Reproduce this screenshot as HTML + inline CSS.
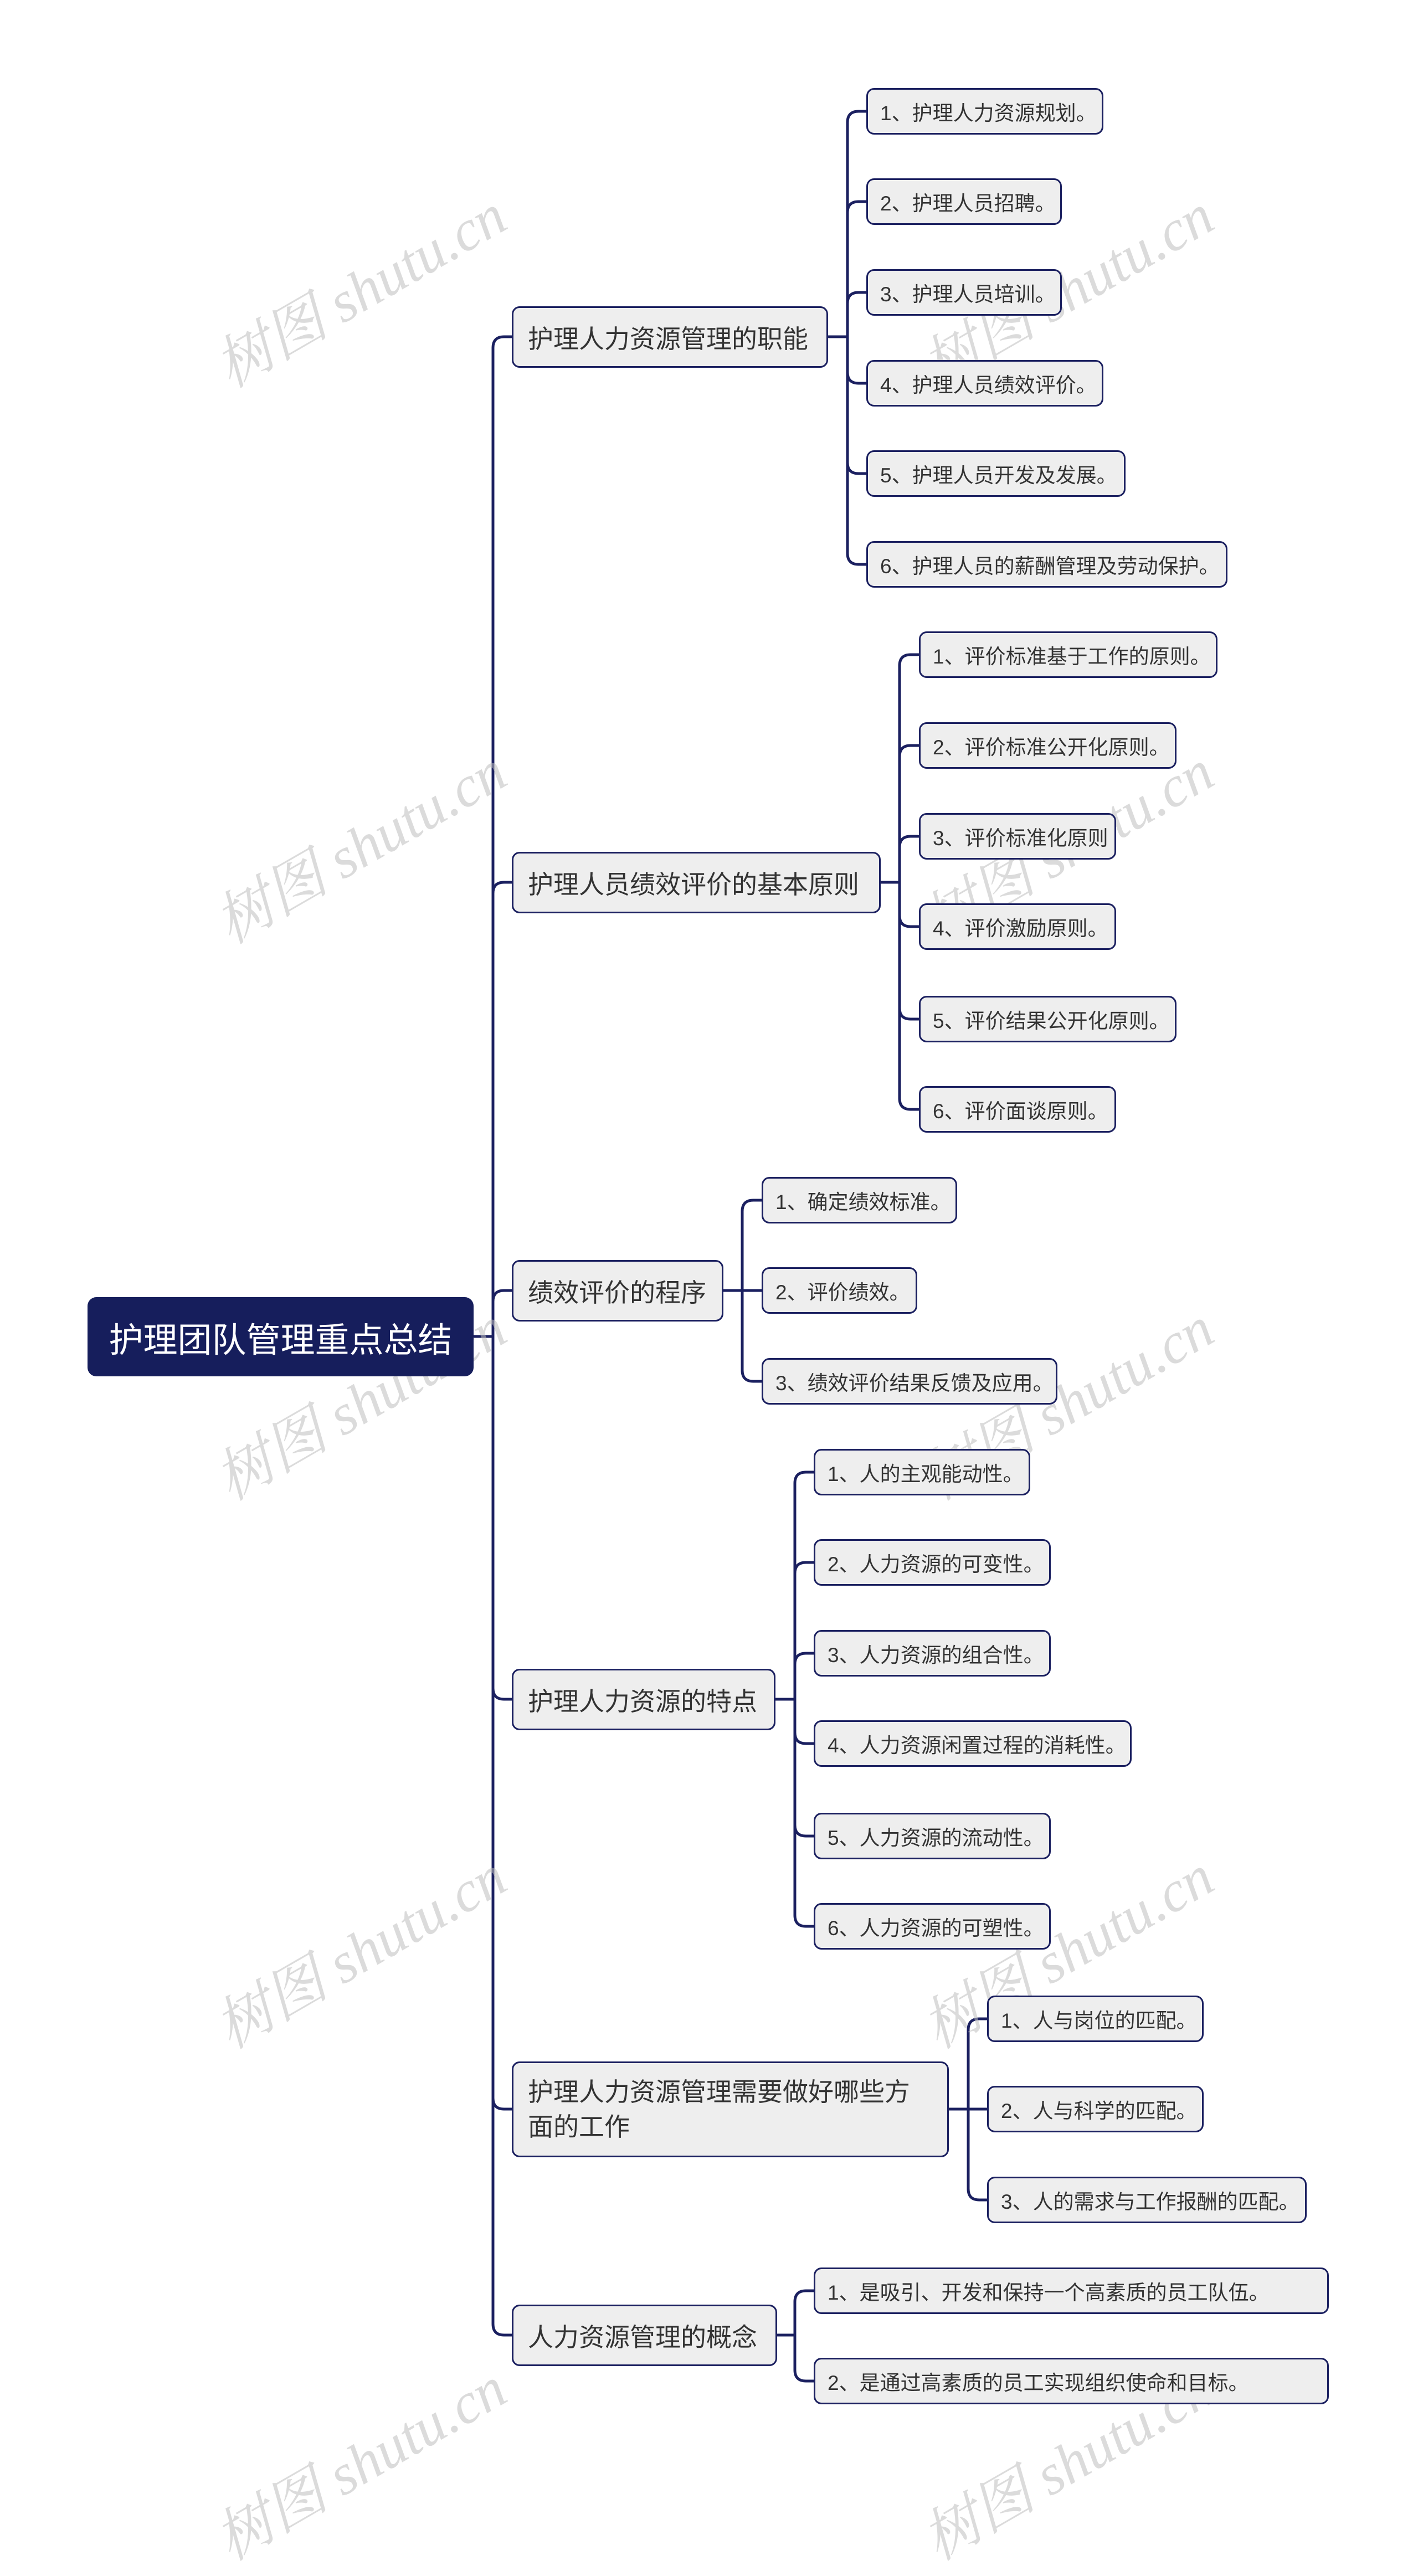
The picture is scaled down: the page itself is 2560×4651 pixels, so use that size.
<!DOCTYPE html>
<html><head><meta charset="utf-8"><style>
html,body{margin:0;padding:0;background:#fff}
body{width:2560px;height:4499px;position:relative;overflow:hidden;font-family:"Liberation Sans","Noto Sans CJK SC",sans-serif}
.n{position:absolute;box-sizing:border-box;background:#eeeeee;border:3px solid #1b2060;border-radius:14px;color:#333;display:flex;align-items:center;white-space:nowrap}
.l1{height:111px;font-size:46px;padding-left:26px}
.lf{height:84px;font-size:37px;padding-left:22px}
.root{position:absolute;left:158px;top:2342px;width:697px;height:143px;background:#161e5c;border-radius:16px;color:#fff;font-size:62px;display:flex;align-items:center;justify-content:center}
.wm{position:absolute;color:rgba(190,190,190,0.55);font-family:"Liberation Serif","Noto Serif CJK SC",serif;font-style:italic;font-size:104px;transform:translate(-50%,-50%) rotate(-30deg);white-space:nowrap}
</style></head><body>
<svg width="2560" height="4499" style="position:absolute;left:0;top:0" fill="none" stroke="#1b2060" stroke-width="5">
<path d="M855 2413H890
M890 2413V628Q890 608 910 608H924
M890 2413V1613Q890 1593 910 1593H924
M890 2413V2350Q890 2330 910 2330H924
M890 2413V3048Q890 3068 910 3068H924
M890 2413V3788Q890 3808 910 3808H924
M890 2413V4196Q890 4216 910 4216H924
M1495 608H1530
M1530 608V221Q1530 201 1550 201H1564
M1530 608V384Q1530 364 1550 364H1564
M1530 608V548Q1530 528 1550 528H1564
M1530 608V672Q1530 692 1550 692H1564
M1530 608V835Q1530 855 1550 855H1564
M1530 608V999Q1530 1019 1550 1019H1564
M1590 1593H1624
M1624 1593V1202Q1624 1182 1644 1182H1659
M1624 1593V1366Q1624 1346 1644 1346H1659
M1624 1593V1530Q1624 1510 1644 1510H1659
M1624 1593V1653Q1624 1673 1644 1673H1659
M1624 1593V1820Q1624 1840 1644 1840H1659
M1624 1593V1983Q1624 2003 1644 2003H1659
M1306 2330H1375
M1340 2330V2187Q1340 2167 1360 2167H1375
M1340 2330V2474Q1340 2494 1360 2494H1375
M1400 3068H1435
M1435 3068V2678Q1435 2658 1455 2658H1469
M1435 3068V2841Q1435 2821 1455 2821H1469
M1435 3068V3005Q1435 2985 1455 2985H1469
M1435 3068V3128Q1435 3148 1455 3148H1469
M1435 3068V3295Q1435 3315 1455 3315H1469
M1435 3068V3458Q1435 3478 1455 3478H1469
M1713 3808H1782
M1748 3808V3665Q1748 3645 1768 3645H1782
M1748 3808V3952Q1748 3972 1768 3972H1782
M1403 4216H1435
M1435 4216V4156Q1435 4136 1455 4136H1469
M1435 4216V4279Q1435 4299 1455 4299H1469"/>
</svg>

<div class="wm" style="left:646px;top:517px">树图 shutu.cn</div>
<div class="wm" style="left:1923px;top:517px">树图 shutu.cn</div>
<div class="wm" style="left:646px;top:1521px">树图 shutu.cn</div>
<div class="wm" style="left:1923px;top:1521px">树图 shutu.cn</div>
<div class="wm" style="left:646px;top:2526px">树图 shutu.cn</div>
<div class="wm" style="left:1923px;top:2526px">树图 shutu.cn</div>
<div class="wm" style="left:646px;top:3516px">树图 shutu.cn</div>
<div class="wm" style="left:1923px;top:3516px">树图 shutu.cn</div>
<div class="wm" style="left:646px;top:4440px">树图 shutu.cn</div>
<div class="wm" style="left:1923px;top:4440px">树图 shutu.cn</div>

<div class="root">护理团队管理重点总结</div>

<div class="n l1" style="left:924px;top:553px;width:571px">护理人力资源管理的职能</div>
<div class="n l1" style="left:924px;top:1538px;width:666px">护理人员绩效评价的基本原则</div>
<div class="n l1" style="left:924px;top:2275px;width:382px">绩效评价的程序</div>
<div class="n l1" style="left:924px;top:3013px;width:476px">护理人力资源的特点</div>
<div class="n l1" style="left:924px;top:3722px;width:789px;height:173px;line-height:63px;white-space:normal">护理人力资源管理需要做好哪些方<br>面的工作</div>
<div class="n l1" style="left:924px;top:4161px;width:479px">人力资源管理的概念</div>

<div class="n lf" style="left:1564px;top:159px;width:428px">1、护理人力资源规划。</div>
<div class="n lf" style="left:1564px;top:322px;width:353px">2、护理人员招聘。</div>
<div class="n lf" style="left:1564px;top:486px;width:353px">3、护理人员培训。</div>
<div class="n lf" style="left:1564px;top:650px;width:428px">4、护理人员绩效评价。</div>
<div class="n lf" style="left:1564px;top:813px;width:468px">5、护理人员开发及发展。</div>
<div class="n lf" style="left:1564px;top:977px;width:652px">6、护理人员的薪酬管理及劳动保护。</div>

<div class="n lf" style="left:1659px;top:1140px;width:539px">1、评价标准基于工作的原则。</div>
<div class="n lf" style="left:1659px;top:1304px;width:465px">2、评价标准公开化原则。</div>
<div class="n lf" style="left:1659px;top:1468px;width:356px">3、评价标准化原则</div>
<div class="n lf" style="left:1659px;top:1631px;width:356px">4、评价激励原则。</div>
<div class="n lf" style="left:1659px;top:1798px;width:465px">5、评价结果公开化原则。</div>
<div class="n lf" style="left:1659px;top:1961px;width:356px">6、评价面谈原则。</div>

<div class="n lf" style="left:1375px;top:2125px;width:353px">1、确定绩效标准。</div>
<div class="n lf" style="left:1375px;top:2288px;width:281px">2、评价绩效。</div>
<div class="n lf" style="left:1375px;top:2452px;width:534px">3、绩效评价结果反馈及应用。</div>

<div class="n lf" style="left:1469px;top:2616px;width:391px">1、人的主观能动性。</div>
<div class="n lf" style="left:1469px;top:2779px;width:428px">2、人力资源的可变性。</div>
<div class="n lf" style="left:1469px;top:2943px;width:428px">3、人力资源的组合性。</div>
<div class="n lf" style="left:1469px;top:3106px;width:574px">4、人力资源闲置过程的消耗性。</div>
<div class="n lf" style="left:1469px;top:3273px;width:428px">5、人力资源的流动性。</div>
<div class="n lf" style="left:1469px;top:3436px;width:428px">6、人力资源的可塑性。</div>

<div class="n lf" style="left:1782px;top:3603px;width:391px">1、人与岗位的匹配。</div>
<div class="n lf" style="left:1782px;top:3766px;width:391px">2、人与科学的匹配。</div>
<div class="n lf" style="left:1782px;top:3930px;width:577px">3、人的需求与工作报酬的匹配。</div>

<div class="n lf" style="left:1469px;top:4094px;width:930px">1、是吸引、开发和保持一个高素质的员工队伍。</div>
<div class="n lf" style="left:1469px;top:4257px;width:930px">2、是通过高素质的员工实现组织使命和目标。</div>
</body></html>
